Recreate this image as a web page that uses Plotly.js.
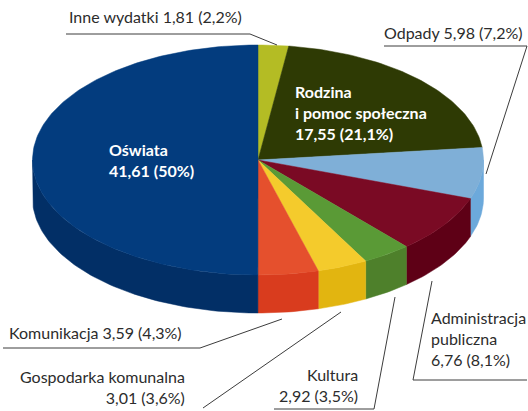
<!DOCTYPE html>
<html><head><meta charset="utf-8">
<script src="https://cdn.plot.ly/plotly-3.0.1.min.js"></script>
<style>html,body{margin:0;padding:0;background:#fff}#c{width:528px;height:411px}</style>
</head><body><div id="c"></div>
<script>
// Slices clockwise from the top of the pie
var categories = ["Inne wydatki","Rodzina i pomoc społeczna","Odpady","Administracja publiczna","Kultura","Gospodarka komunalna","Komunikacja","Oświata"];
var values = [1.81,17.55,5.98,6.76,2.92,3.01,3.59,41.61];
var percents = [2.2,21.1,7.2,8.1,3.5,3.6,4.3,50];
var topColors = ["#B4BC24","#2E3A04","#7FAFD7","#7A0A24","#5A9A36","#F4CB2C","#E5502D","#033C7E"];
var wallColors = ["#A0A81E","#262F02","#6CA9DB","#5E0016","#4E802B","#E2B510","#D93C1E","#022F66"];

// Pie geometry in page pixels
var cx = 258, cy = 160, rx = 225.5, ry = 115, depth = 38;

var fmt = function(v){ return String(v).replace(".", ","); };
var lab = function(i){ return fmt(values[i].toFixed(2)) + " (" + fmt(percents[i]) + "%)"; };

var total = values.reduce(function(a,b){return a+b;},0);
function px(t){ return cx + rx*Math.sin(t); }
function py(t){ return cy - ry*Math.cos(t); }
function arc(t0,t1){
  var n = Math.max(2, Math.ceil((t1-t0)/0.02)), out = [];
  for (var i=0;i<=n;i++) out.push(t0+(t1-t0)*i/n);
  return out;
}
var walls = [], tops = [], cum = 0;
values.forEach(function(v,i){
  var t0 = cum/total*2*Math.PI; cum += v;
  var t1 = cum/total*2*Math.PI;
  var a = arc(t0,t1);
  var xs = [cx].concat(a.map(px),[cx]);
  var ys = [cy].concat(a.map(py),[cy]);
  tops.push({type:"scatter",mode:"lines",x:xs,y:ys,fill:"toself",fillcolor:topColors[i],
    line:{color:topColors[i],width:0.5},hoverinfo:"skip",showlegend:false,name:categories[i]});
  var w0 = Math.max(t0,Math.PI/2), w1 = Math.min(t1,3*Math.PI/2);
  if (w1 > w0) {
    var b = arc(w0,w1), r = b.slice().reverse();
    walls.push({type:"scatter",mode:"lines",
      x:b.map(px).concat(r.map(px),[px(w0)]),
      y:b.map(py).concat(r.map(function(t){return py(t)+depth;}),[py(w0)]),
      fill:"toself",fillcolor:wallColors[i],line:{color:wallColors[i],width:0.5},
      hoverinfo:"skip",showlegend:false,name:categories[i]});
  }
});

// Leader lines
var leaders = [
  [[66,250,277],[34,34,45]],
  [[384,527,486],[46,46,174]],
  [[527,413,432],[380,380,281]],
  [[274,374,395],[409,409,297]],
  [[203,341],[408,312]],
  [[3,200,282],[348,348,319]]
];
var leaderTraces = leaders.map(function(l){
  return {type:"scatter",mode:"lines",x:l[0],y:l[1],line:{color:"#3c3c3c",width:1},hoverinfo:"skip",showlegend:false};
});

var F = "Lato, 'Open Sans', sans-serif", size = 16;
function note(text,x,y,anchor,color,bold){
  return {text:bold?"<b>"+text+"</b>":text,x:x,y:y,xref:"x",yref:"y",xanchor:anchor,yanchor:"middle",
    align:anchor,showarrow:false,font:{family:F,size:size,color:color},borderpad:0};
}
var ink = "#2c2c2c";
var annotations = [
  note(categories[0]+" "+lab(0),68,16,"left",ink),
  note("Odpady "+lab(2),383,32,"left",ink),
  note("Rodzina<br>i pomoc społeczna<br>"+lab(1),294,112,"left","#fff",true),
  note(categories[7]+"<br>"+lab(7),108,160,"left","#fff",true),
  note(categories[6]+" "+lab(6),8,332,"left",ink),
  note(categories[5]+"<br>"+lab(5),186,387,"right",ink),
  note(categories[4]+"<br>"+lab(4),359,385,"right",ink),
  note("Administracja<br>publiczna<br>"+lab(3),430,338,"left",ink)
];

var hidden = {visible:false,fixedrange:true};
Plotly.newPlot("c", walls.concat(tops,leaderTraces), {
  width:528,height:411,margin:{l:0,r:0,t:0,b:0},
  paper_bgcolor:"#fff",plot_bgcolor:"#fff",showlegend:false,
  xaxis:Object.assign({range:[0,528]},hidden),
  yaxis:Object.assign({range:[411,0]},hidden),
  annotations:annotations
},{staticPlot:true,displayModeBar:false});
</script></body></html>
